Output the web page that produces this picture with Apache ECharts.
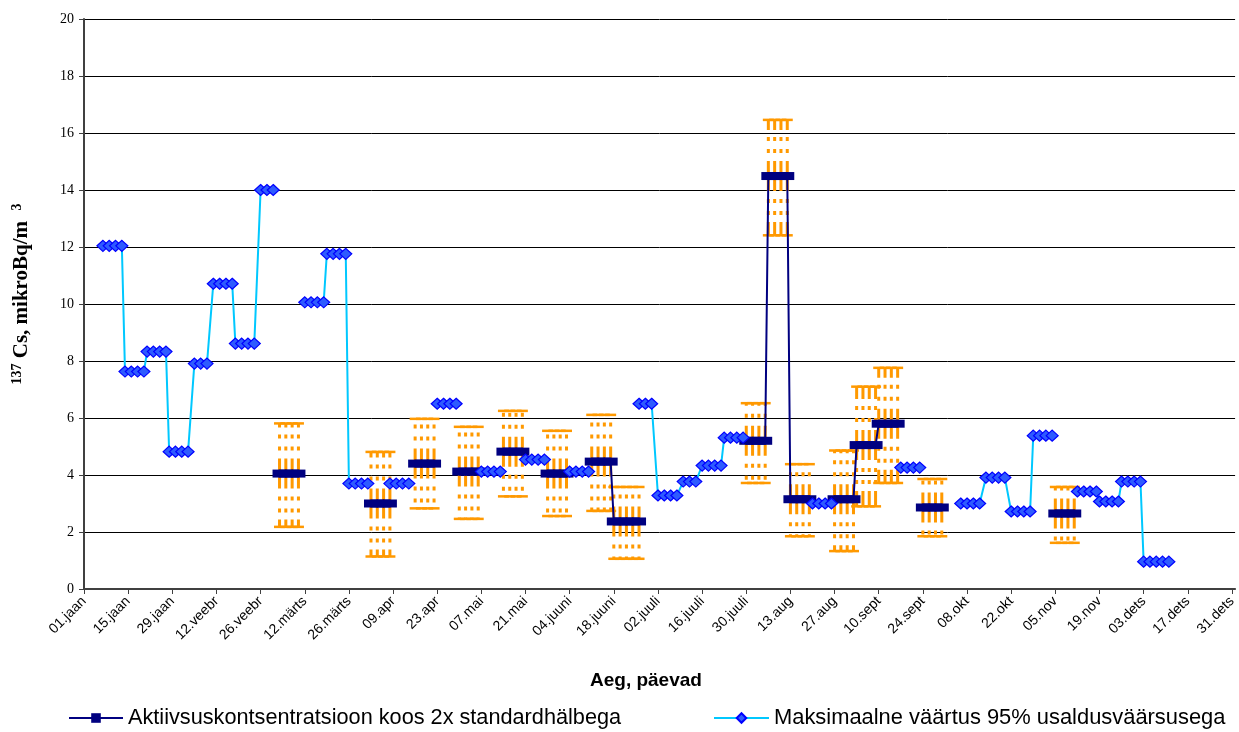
<!DOCTYPE html>
<html>
<head>
<meta charset="utf-8">
<script src="https://cdn.jsdelivr.net/npm/echarts@6/dist/echarts.min.js"></script>
<style>
html,body{margin:0;padding:0;background:#fff;}
#chart{width:1239px;height:732px;}
</style>
</head>
<body>
<div id="chart"></div>
<script>
// Tick labels (every 14 days from 01.jaan)
const tickLabels = ['01.jaan','15.jaan','29.jaan','12.veebr','26.veebr','12.märts','26.märts','09.apr','23.apr','07.mai','21.mai','04.juuni','18.juuni','02.juuli','16.juuli','30.juuli','13.aug','27.aug','10.sept','24.sept','08.okt','22.okt','05.nov','19.nov','03.dets','17.dets','31.dets'];

// Maximum value with 95% confidence (sampling periods, day-of-year)
const maxStart = [6,13,20,27,35,41,48,56,70,77,84,97,112,126,140,154,176,182,190,196,203,231,259,278,286,294,301,315,322,329,336];
const maxEnd   = [12,19,26,34,40,47,55,61,76,83,90,104,118,132,146,160,181,189,195,202,209,237,265,285,293,300,307,321,328,335,344];
const maxValue = [12.04,7.63,8.33,4.82,7.91,10.71,8.61,14.0,10.06,11.76,3.70,3.70,6.50,4.12,4.54,4.12,6.50,3.28,3.77,4.33,5.31,3.0,4.26,3.0,3.91,2.72,5.38,3.42,3.07,3.77,0.96];

// Activity concentration with 2x standard deviation
const actStart = [62,91,105,119,133,147,161,168,210,217,224,238,245,252,266,308];
const actEnd   = [68,97,111,125,139,153,167,176,216,223,230,244,251,258,272,314];
const actValue = [4.05,3.0,4.40,4.12,4.82,4.05,4.47,2.37,5.2,14.49,3.15,3.15,5.05,5.80,2.86,2.65];
const actLow   = [2.18,1.14,2.83,2.46,3.25,2.56,2.74,1.06,3.72,12.41,1.85,1.33,2.9,3.72,1.85,1.62];
const actHigh  = [5.81,4.81,5.97,5.69,6.25,5.55,6.11,3.58,6.52,16.46,4.38,4.86,7.1,7.76,3.86,3.58];

const NAME_ACT = 'Aktiivsuskontsentratsioon koos 2x standardhälbega';
const NAME_MAX = 'Maksimaalne väärtus 95% usaldusväärsusega';
const STEP = 2; // sample points every second day within a period

function periodDays(s, e) {
  const ds = [];
  for (let d = s; d <= e; d += STEP) ds.push(d);
  return ds;
}
function buildSeries(starts, ends, vals) {
  const out = [];
  let prevEnd = null;
  for (let i = 0; i < starts.length; i++) {
    if (prevEnd !== null && starts[i] !== prevEnd + 1) out.push([(prevEnd + starts[i]) / 2, '-']);
    periodDays(starts[i], ends[i]).forEach(function (d) { out.push([d, vals[i]]); });
    prevEnd = ends[i];
  }
  return out;
}
function buildErr() {
  const out = [];
  for (let i = 0; i < actStart.length; i++) {
    periodDays(actStart[i], actEnd[i]).forEach(function (d) { out.push([d, actLow[i], actHigh[i], actValue[i]]); });
  }
  return out;
}

const chart = echarts.init(document.getElementById('chart'), null, {renderer: 'canvas'});
const ORANGE = '#FF9900';
const dash = [15, 8, 4, 8, 4, 7];

chart.setOption({
  animation: false,
  backgroundColor: '#ffffff',
  grid: {left: 84, right: 0, top: 19, bottom: 143, containLabel: false},
  legend: [
    {data: [NAME_ACT], left: 68, top: 707, padding: 0, itemWidth: 54, itemHeight: 12, itemGap: 0,
     textStyle: {fontFamily: 'Liberation Sans', fontSize: 21.7, color: '#000'}},
    {data: [NAME_MAX], left: 713, top: 707, padding: 0, itemWidth: 55, itemHeight: 12, itemGap: 0,
     textStyle: {fontFamily: 'Liberation Sans', fontSize: 21.9, color: '#000'}}
  ],
  graphic: [
    {type: 'text', left: 646 - 56, top: 671, z: 10,
     style: {text: 'Aeg, päevad', font: 'bold 19px "Liberation Sans"', fill: '#000'}},
    {type: 'text', x: 22, y: 294, rotation: Math.PI / 2, z: 10,
     style: {
       text: '{s|137}{m| Cs, mikroBq/m  }{s|3}', align: 'center', verticalAlign: 'middle',
       rich: {
         m: {fontFamily: 'Liberation Serif', fontSize: 21, fontWeight: 'bold', fill: '#000', lineHeight: 24},
         s: {fontFamily: 'Liberation Serif', fontSize: 14, fontWeight: 'bold', fill: '#000', lineHeight: 14, verticalAlign: 'top'}
       }
     }}
  ],
  xAxis: {
    type: 'value', min: 0, max: 365, interval: 14,
    axisLine: {show: true, lineStyle: {color: '#404040', width: 2}},
    axisTick: {show: true, length: 5, lineStyle: {color: '#404040', width: 1}},
    splitLine: {show: false},
    axisLabel: {
      rotate: 45, margin: 10, fontFamily: 'Liberation Sans', fontSize: 14, color: '#000',
      showMaxLabel: false,
      formatter: function (v) { return (v % 14 === 0 && tickLabels[v / 14]) ? tickLabels[v / 14] : ''; }
    }
  },
  yAxis: {
    type: 'value', min: 0, max: 20, interval: 2,
    axisLine: {show: true, lineStyle: {color: '#404040', width: 2}},
    axisTick: {show: true, length: 5, lineStyle: {color: '#404040', width: 1}},
    splitLine: {show: true, lineStyle: {color: '#000', width: 1}},
    axisLabel: {margin: 10, fontFamily: 'Liberation Serif', fontSize: 14, color: '#000'}
  },
  series: [
    {
      type: 'custom', name: 'err', z: 1, silent: true,
      data: buildErr(),
      encode: {x: 0, y: [1, 2]},
      renderItem: function (params, api) {
        const x = api.value(0), lo = api.value(1), hi = api.value(2), v = api.value(3);
        const pv = api.coord([x, v]), ph = api.coord([x, hi]), pl = api.coord([x, lo]);
        const cap = 5.5;
        const st = {stroke: ORANGE, lineWidth: 3, lineDash: dash};
        const cs = {stroke: ORANGE, lineWidth: 2.5};
        return {type: 'group', children: [
          {type: 'line', shape: {x1: pv[0], y1: pv[1], x2: ph[0], y2: ph[1]}, style: st},
          {type: 'line', shape: {x1: pv[0], y1: pv[1], x2: pl[0], y2: pl[1]}, style: st},
          {type: 'line', shape: {x1: ph[0] - cap, y1: ph[1], x2: ph[0] + cap, y2: ph[1]}, style: cs},
          {type: 'line', shape: {x1: pl[0] - cap, y1: pl[1], x2: pl[0] + cap, y2: pl[1]}, style: cs}
        ]};
      }
    },
    {
      type: 'line', name: NAME_ACT, z: 2,
      data: buildSeries(actStart, actEnd, actValue),
      symbol: 'rect', symbolSize: [14, 8], showAllSymbol: true,
      lineStyle: {color: '#000080', width: 2},
      itemStyle: {color: '#000080'}
    },
    {
      type: 'line', name: NAME_MAX, z: 3,
      data: buildSeries(maxStart, maxEnd, maxValue),
      symbol: 'diamond', symbolSize: [12, 11], showAllSymbol: true,
      lineStyle: {color: '#00C8FF', width: 2},
      itemStyle: {color: '#2e5bff', borderColor: '#0000ff', borderWidth: 1.2}
    }
  ]
});
</script>
</body>
</html>
